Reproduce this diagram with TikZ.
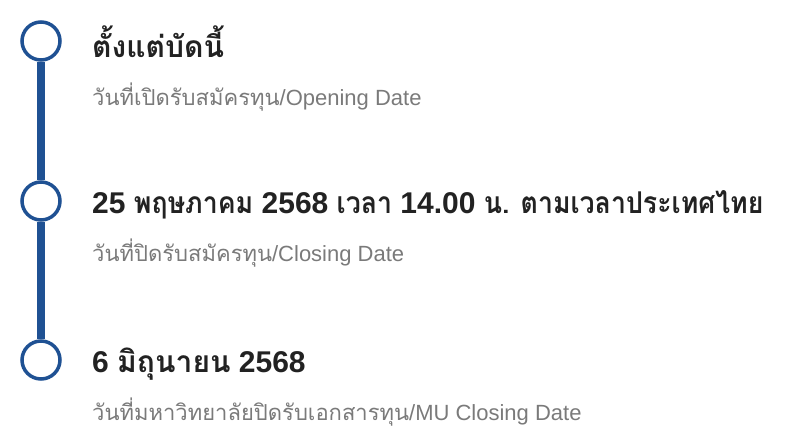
\documentclass[tikz,border=0pt]{standalone}
\usepackage{fontspec}
\setmainfont{Liberation Sans}
\newfontfamily\thaifont[Script=Thai]{Loma}
\newfontfamily\thainarrow[Script=Thai,FakeStretch=0.89]{Loma}
\newcommand\thaitext[1]{{\thaifont #1}}
\newcommand\thainarrowtext[1]{{\thainarrow #1}}
\usetikzlibrary{positioning}
\definecolor{lineblue}{HTML}{1F5193}
\definecolor{titledark}{HTML}{222222}
\definecolor{subgrey}{HTML}{7A7A7A}
\tikzset{dot/.style={
		circle,
		draw=lineblue,
		line width=3.5pt,
		fill=white,
		minimum size=38pt,
		inner sep=0pt},
	title/.style={
		anchor=base west,
		inner sep=0pt,
		text=titledark,
		font=\bfseries\fontsize{30}{34}\selectfont},
	subtitle/.style={
		anchor=base west,
		inner sep=0pt,
		text=subgrey,
		font=\fontsize{22}{26}\selectfont}
	}

\begin{document}
\begin{tikzpicture}[x=1pt,y=-1pt]
			\useasboundingbox (0,0) rectangle (805,444);
			\node [dot] (c1) at (41,41) {};
			\node [dot] (c2) at (41,201) {};
			\node [dot] (c3) at (41,360) {};
			\draw [lineblue, line width=7.5pt] (c1) -- (c2);
			\draw [lineblue, line width=7.5pt] (c2) -- (c3);
			\node [title] (t1) at (92,57) {\thaitext{ตั้งแต่บัดนี้}};
			\node [subtitle] (s1) at (92,105) {\thaitext{วันที่เปิดรับสมัครทุน}/Opening Date};
			\node [title] (t2) at (92,213) {25 \thainarrowtext{พฤษภาคม} 2568 \thainarrowtext{เวลา} 14.00 \thainarrowtext{น.} \thainarrowtext{ตามเวลาประเทศไทย}};
			\node [subtitle] (s2) at (92,261) {\thaitext{วันที่ปิดรับสมัครทุน}/Closing Date};
			\node [title] (t3) at (92,372) {6 \thaitext{มิถุนายน} 2568};
			\node [subtitle] (s3) at (92,420) {\thaitext{วันที่มหาวิทยาลัยปิดรับเอกสารทุน}/MU Closing Date};
		\end{tikzpicture}
\end{document}
